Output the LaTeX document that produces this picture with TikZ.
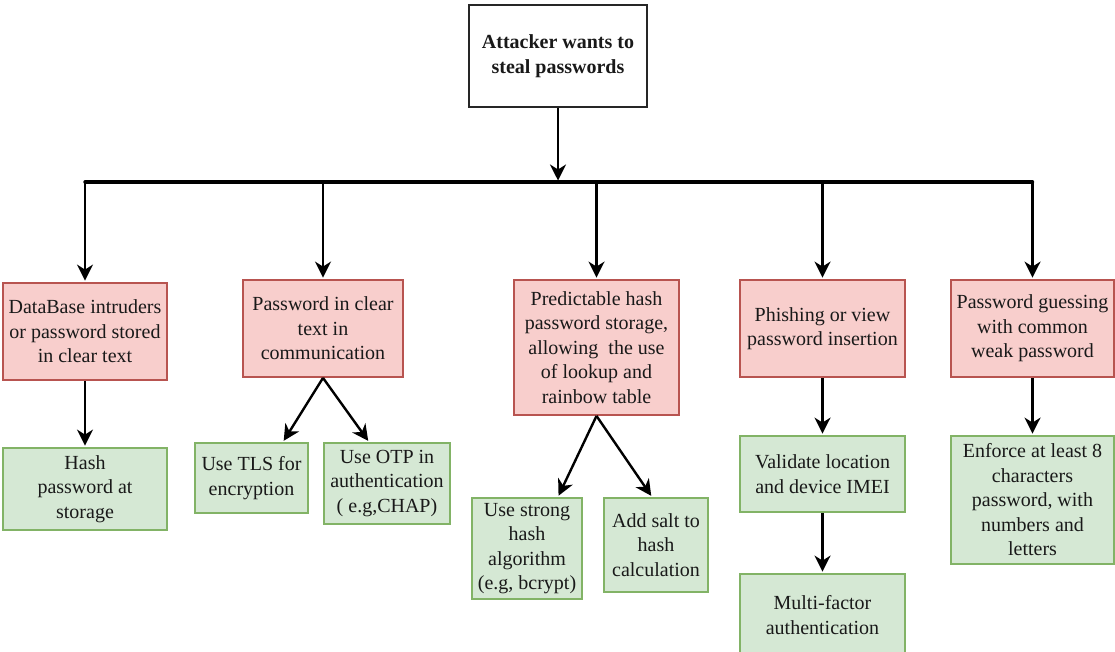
\documentclass[tikz,border=0pt]{standalone}
\usepackage{fontspec}
\setmainfont{Liberation Serif}
\usetikzlibrary{arrows.meta}
\definecolor{threatfill}{HTML}{F8CECC}
\definecolor{threatline}{HTML}{B85450}
\definecolor{fixfill}{HTML}{D5E8D4}
\definecolor{fixline}{HTML}{82B366}
\tikzset{
  box/.style={rectangle, line width=1.8pt, inner sep=0pt, align=center,
    font=\fontsize{20}{24.5}\selectfont, text=black!90},
  rootbox/.style={box, draw=black!85, fill=white, font=\bfseries\fontsize{20}{24.5}\selectfont},
  threat/.style={box, draw=threatline, fill=threatfill},
  fix/.style={box, draw=fixline, fill=fixfill},
  link/.style={line width=2.4pt, draw=black,
    -{Stealth[length=16pt,width=16pt,inset=5pt]}, shorten >=1.5pt},
  busline/.style={line width=3.4pt, draw=black, line cap=round, line join=round}
}
\begin{document}
\begin{tikzpicture}[x=1pt,y=-1pt]
\useasboundingbox (0,0) rectangle (1115,651);

% root
\node[rootbox, minimum width=178pt, minimum height=102pt] (root) at (558,56)
  {Attacker wants to\\steal passwords};

% threats
\node[threat, minimum width=164pt, minimum height=97pt] (r1) at (85,331.5)
  {DataBase intruders\\or password stored\\in clear text};
\node[threat, minimum width=160pt, minimum height=97pt] (r2) at (323,328.5)
  {Password in clear\\text in\\communication};
\node[threat, minimum width=165pt, minimum height=135pt] (r3) at (596.5,347.5)
  {Predictable hash\\password storage,\\allowing\ \ the use\\of lookup and\\rainbow table};
\node[threat, minimum width=165pt, minimum height=97pt] (r4) at (822.5,328.5)
  {Phishing or view\\password insertion};
\node[threat, minimum width=163pt, minimum height=97pt] (r5) at (1032.5,328.5)
  {Password guessing\\with common\\weak password};

% countermeasures
\node[fix, minimum width=164pt, minimum height=82pt] (g1) at (85,489)
  {Hash\\password at\\storage};
\node[fix, minimum width=113pt, minimum height=70pt] (g2) at (251.5,478)
  {Use TLS for\\encryption};
\node[fix, minimum width=126pt, minimum height=81pt] (g3) at (387,483.5)
  {Use OTP in\\authentication\\( e.g,CHAP)};
\node[fix, minimum width=110pt, minimum height=101pt] (g4) at (527,548.5)
  {Use strong\\hash\\algorithm\\(e.g, bcrypt)};
\node[fix, minimum width=104pt, minimum height=94pt] (g5) at (656,545)
  {Add salt to\\hash\\calculation};
\node[fix, minimum width=165pt, minimum height=76pt] (g6) at (822.5,474)
  {Validate location\\and device IMEI};
\node[fix, minimum width=165pt, minimum height=82pt] (g7) at (822.5,615)
  {Multi-factor\\authentication};
\node[fix, minimum width=163pt, minimum height=128pt] (g8) at (1032.5,500)
  {Enforce at least 8\\characters\\password, with\\numbers and\\letters};

% distribution bus
\coordinate (hub) at (558,182);
\draw[link] (root.south) -- (hub);
\draw[busline] (r1.north |- hub) -- (r5.north |- hub);
\foreach \r in {r1,r2,r3,r4,r5}
  \draw[link] (\r.north |- hub) -- (\r.north);

% threat to countermeasure links
\draw[link] (r1.south) -- (g1.north);
\draw[link] (r2.south) -- ([xshift=-26pt]g2.north east);
\draw[link] (r2.south) -- ([xshift=46pt]g3.north west);
\draw[link] (r3.south) -- ([xshift=-25pt]g4.north east);
\draw[link] (r3.south) -- ([xshift=49pt]g5.north west);
\draw[link] (r4.south) -- (g6.north);
\draw[link] (g6.south) -- (g7.north);
\draw[link] (r5.south) -- (g8.north);
\end{tikzpicture}
\end{document}
